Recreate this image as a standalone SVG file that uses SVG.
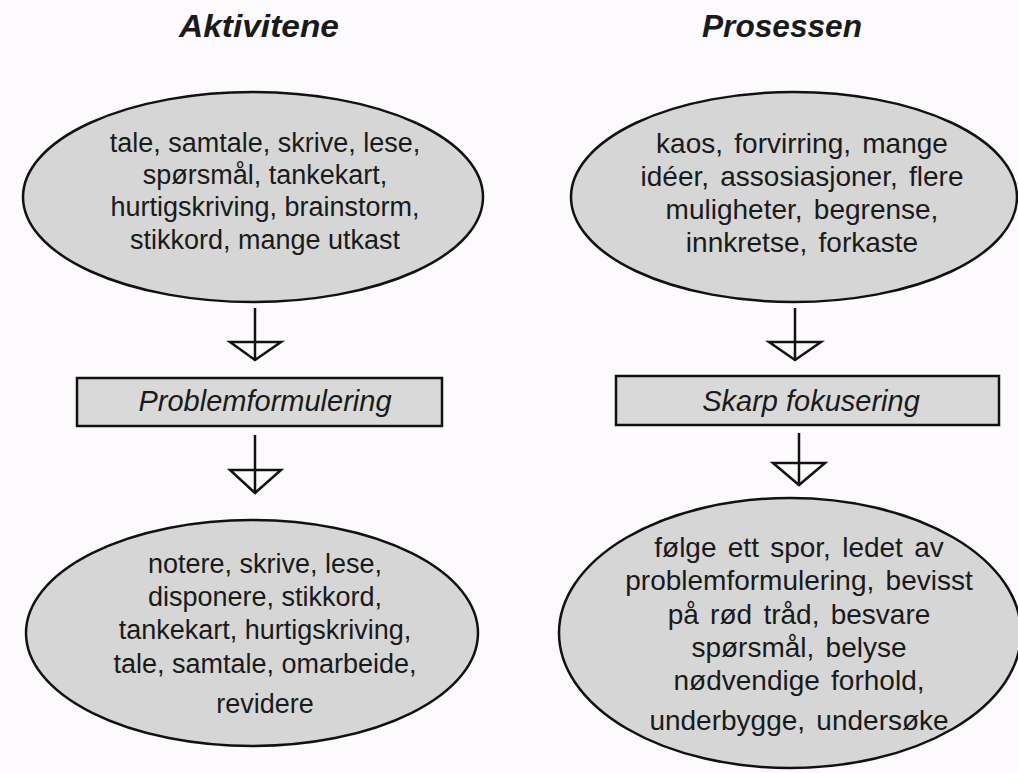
<svg xmlns="http://www.w3.org/2000/svg" width="1018" height="773" viewBox="0 0 1018 773">
<style>
.bg{fill:#fcfafc}
.shape{fill:#d6d6d6;stroke:#111;stroke-width:2.5}
.box{fill:#d9d9d9;stroke:#111;stroke-width:2.5}
.t{font-family:"Liberation Sans",Arial,sans-serif;font-size:27px;fill:#1a1a1a;text-anchor:middle}
.r{font-size:28px;word-spacing:3.5px}
.it{font-style:italic;font-size:29px}
.title{font-family:"Liberation Sans",Arial,sans-serif;font-size:31px;font-weight:bold;font-style:italic;fill:#1a1a1a;text-anchor:middle}
.ar{fill:none;stroke:#111;stroke-width:2.5;stroke-linejoin:miter}
</style>
<rect class="bg" x="0" y="0" width="1018" height="773"/>
<g id="titles">
<text class="title" x="259" y="37" textLength="160" lengthAdjust="spacingAndGlyphs">Aktivitene</text>
<text class="title" x="782" y="37" textLength="160" lengthAdjust="spacingAndGlyphs">Prosessen</text>
</g>
<g id="connectors">
<path class="ar" d="M255 308 V360 M230 342 H281 L255 360 Z"/>
<path class="ar" d="M255 435 V493 M230 470 H281 L255 493 Z"/>
<path class="ar" d="M795 308 V360 M769 342 H821 L795 360 Z"/>
<path class="ar" d="M799 433 V485 M773 463 H825 L799 485 Z"/>
</g>
<g id="n1">
<ellipse class="shape" cx="253" cy="197" rx="230" ry="105"/>
<text class="t" x="265" y="152">tale, samtale, skrive, lese,</text>
<text class="t" x="265" y="184">spørsmål, tankekart,</text>
<text class="t" x="265" y="216">hurtigskriving, brainstorm,</text>
<text class="t" x="265" y="249">stikkord, mange utkast</text>
</g>
<g id="n2">
<ellipse class="shape" cx="794" cy="197" rx="223" ry="105"/>
<text class="t r" x="802" y="153">kaos, forvirring, mange</text>
<text class="t r" x="802" y="186">idéer, assosiasjoner, flere</text>
<text class="t r" x="802" y="219">muligheter, begrense,</text>
<text class="t r" x="802" y="252">innkretse, forkaste</text>
</g>
<g id="n3">
<rect class="box" x="77" y="378" width="365" height="48"/>
<text class="t it" x="265" y="411">Problemformulering</text>
</g>
<g id="n4">
<rect class="box" x="616" y="376" width="383" height="49"/>
<text class="t it" x="811" y="411">Skarp fokusering</text>
</g>
<g id="n5">
<ellipse class="shape" cx="252" cy="633" rx="226" ry="113"/>
<text class="t" x="265" y="573">notere, skrive, lese,</text>
<text class="t" x="265" y="606">disponere, stikkord,</text>
<text class="t" x="265" y="639">tankekart, hurtigskriving,</text>
<text class="t" x="265" y="673">tale, samtale, omarbeide,</text>
<text class="t" x="265" y="713">revidere</text>
</g>
<g id="n6">
<ellipse class="shape" cx="790" cy="633" rx="231" ry="135"/>
<text class="t r" x="799" y="557">følge ett spor, ledet av</text>
<text class="t r" x="799" y="590">problemformulering, bevisst</text>
<text class="t r" x="799" y="624">på rød tråd, besvare</text>
<text class="t r" x="799" y="657">spørsmål, belyse</text>
<text class="t r" x="799" y="690">nødvendige forhold,</text>
<text class="t r" x="799" y="730">underbygge, undersøke</text>
</g>
</svg>
